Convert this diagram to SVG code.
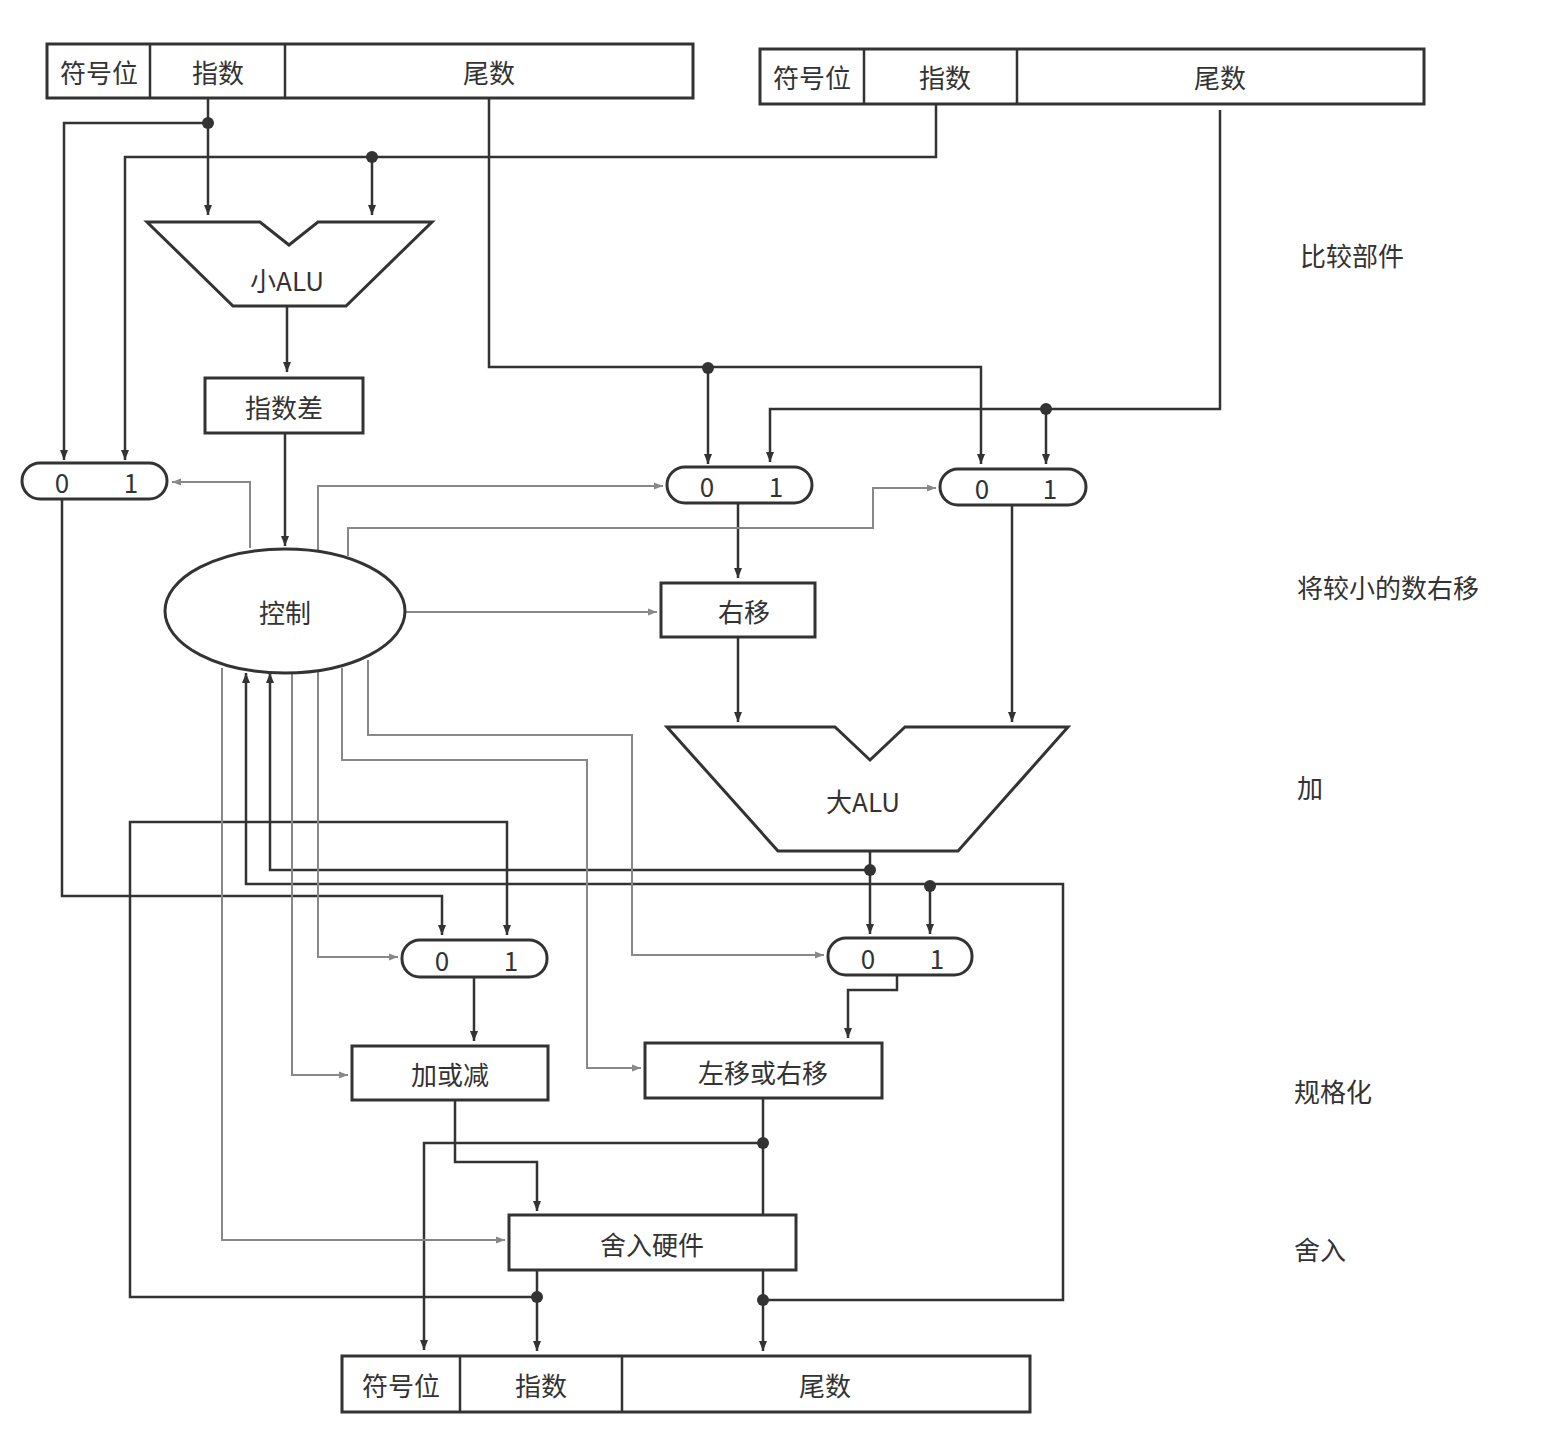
<svg xmlns="http://www.w3.org/2000/svg" width="1560" height="1434" viewBox="0 0 1560 1434">
<defs>
<marker id="a" viewBox="0 0 10 10" refX="10" refY="5" markerWidth="10" markerHeight="10" markerUnits="userSpaceOnUse" orient="auto"><path d="M0,1 L10,5 L0,9 Z" fill="#333"/></marker>
<marker id="g" viewBox="0 0 10 10" refX="10" refY="5" markerWidth="12" markerHeight="9" markerUnits="userSpaceOnUse" orient="auto"><path d="M0,1 L10,5 L0,9 Z" fill="#888"/></marker>
</defs>
<style>
text{font-family:"Noto Sans CJK SC","Liberation Sans",sans-serif;font-size:26px;fill:#333;text-anchor:middle;dominant-baseline:central}
.b{fill:#fff;stroke:#333;stroke-width:3}
.w{fill:none;stroke:#333;stroke-width:2.5}
.c{fill:none;stroke:#888;stroke-width:2}
.ar{marker-end:url(#a)}
.ga{marker-end:url(#g)}
.lbl{text-anchor:start}
</style>
<rect width="1560" height="1434" fill="#fff"/>
<g id="connectors">
<path class="w ar" d="M208,98 V215"/>
<path class="w ar" d="M208,123 H64 V460"/>
<path class="w ar" d="M936,104 V157 H125 V460"/>
<path class="w ar" d="M372,157 V215"/>
<path class="w ar" d="M287,306 V372"/>
<path class="w ar" d="M285,433 V546"/>
<path class="w ar" d="M489,98 V367 H981 V464"/>
<path class="w ar" d="M708,368 V464"/>
<path class="w ar" d="M1220,110 V409 H770 V462"/>
<path class="w ar" d="M1046,409 V464"/>
<path class="w ar" d="M738,503 V578"/>
<path class="w ar" d="M738,637 V722"/>
<path class="w ar" d="M1012,505 V722"/>
<path class="w ar" d="M870,851 V934"/>
<path class="w ar" d="M870,870 H270 V673"/>
<path class="w ar" d="M763,1300 H1063 V884 H246 V673"/>
<path class="w ar" d="M930,886 V934"/>
<path class="w ar" d="M537,1297 H130 V822 H507 V935"/>
<path class="w ar" d="M62,498 V896 H442 V935"/>
<path class="w ar" d="M474,977 V1041"/>
<path class="w ar" d="M897,975 V990 H848 V1038"/>
<path class="w" d="M763,1098 V1215"/>
<path class="w ar" d="M763,1143 H424 V1350"/>
<path class="w ar" d="M455,1100 V1162 H537 V1211"/>
<path class="w ar" d="M537,1270 V1351"/>
<path class="w ar" d="M763,1270 V1351"/>
<path class="c ga" d="M250,548 V482 H172"/>
<path class="c ga" d="M318,552 V486 H663"/>
<path class="c ga" d="M348,556 V528 H873 V488 H936"/>
<path class="c ga" d="M405,612 H657"/>
<path class="c ga" d="M222,668 V1240 H505"/>
<path class="c ga" d="M292,672 V1075 H348"/>
<path class="c ga" d="M318,672 V957 H398"/>
<path class="c ga" d="M342,668 V760 H587 V1068 H641"/>
<path class="c ga" d="M368,660 V735 H632 V955 H824"/>
<g fill="#333"><circle cx="208" cy="123" r="6"/><circle cx="372" cy="157" r="6"/><circle cx="708" cy="368" r="6"/><circle cx="1046" cy="409" r="6"/><circle cx="870" cy="870" r="6"/><circle cx="930" cy="886" r="6"/><circle cx="763" cy="1143" r="6"/><circle cx="537" cy="1297" r="6"/><circle cx="763" cy="1300" r="6"/></g>
</g>
<g id="regA"><rect class="b" x="47" y="44" width="646" height="54"/><path class="w" d="M150,44 V98 M285,44 V98"/><text x="99" y="71">符号位</text><text x="218" y="71">指数</text><text x="489" y="71">尾数</text></g>
<g id="regB"><rect class="b" x="760" y="49" width="664" height="55"/><path class="w" d="M864,49 V104 M1017,49 V104"/><text x="812" y="76">符号位</text><text x="945" y="76">指数</text><text x="1220" y="76">尾数</text></g>
<g id="regOut"><rect class="b" x="342" y="1356" width="688" height="56"/><path class="w" d="M460,1356 V1412 M622,1356 V1412"/><text x="401" y="1384">符号位</text><text x="541" y="1384">指数</text><text x="825" y="1384">尾数</text></g>
<g id="smallALU"><path class="b" d="M147,222 H260 L289,245 L318,222 H432 L346,306 H233 Z"/><text x="287" y="279">小ALU</text></g>
<g id="expDiff"><rect class="b" x="205" y="378" width="158" height="55"/><text x="284" y="406">指数差</text></g>
<g id="mux1"><rect class="b" x="22" y="463" width="145" height="36" rx="18"/><text x="62" y="481">0</text><text x="131" y="481">1</text></g>
<g id="mux2"><rect class="b" x="667" y="467" width="145" height="36" rx="18"/><text x="707" y="485">0</text><text x="776" y="485">1</text></g>
<g id="mux3"><rect class="b" x="940" y="469" width="146" height="36" rx="18"/><text x="982" y="487">0</text><text x="1050" y="487">1</text></g>
<g id="control"><ellipse class="b" cx="285" cy="611" rx="120" ry="62"/><text x="285" y="611">控制</text></g>
<g id="shiftRight"><rect class="b" x="661" y="583" width="154" height="54"/><text x="744" y="610">右移</text></g>
<g id="bigALU"><path class="b" d="M667,727 H835 L870,760 L905,727 H1068 L958,851 H778 Z"/><text x="863" y="800">大ALU</text></g>
<g id="mux4"><rect class="b" x="402" y="940" width="145" height="37" rx="18"/><text x="442" y="959">0</text><text x="511" y="959">1</text></g>
<g id="mux5"><rect class="b" x="828" y="938" width="144" height="37" rx="18"/><text x="868" y="957">0</text><text x="937" y="957">1</text></g>
<g id="addSub"><rect class="b" x="352" y="1046" width="196" height="54"/><text x="450" y="1073">加或减</text></g>
<g id="shiftLR"><rect class="b" x="645" y="1043" width="237" height="55"/><text x="763" y="1071">左移或右移</text></g>
<g id="round"><rect class="b" x="509" y="1215" width="287" height="55"/><text x="652" y="1243">舍入硬件</text></g>
<g id="labels"><text class="lbl" x="1300" y="254">比较部件</text><text class="lbl" x="1297" y="586">将较小的数右移</text><text class="lbl" x="1297" y="786">加</text><text class="lbl" x="1294" y="1090">规格化</text><text class="lbl" x="1294" y="1248">舍入</text></g>
</svg>
